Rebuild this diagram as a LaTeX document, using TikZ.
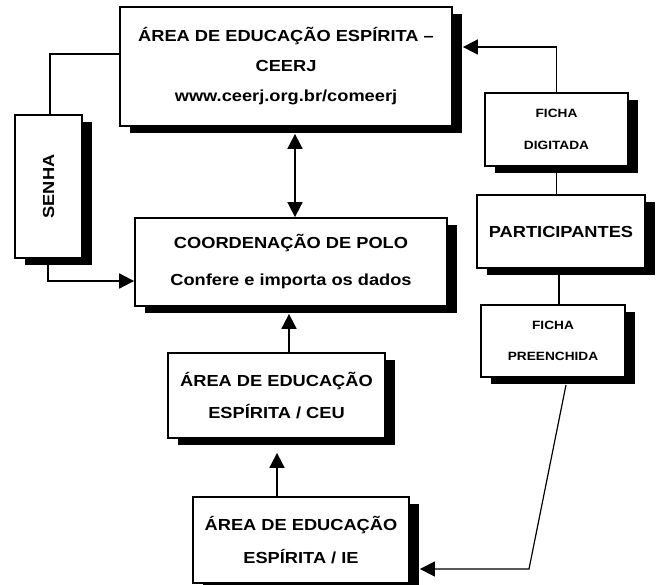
\documentclass[tikz,border=0pt]{standalone}
\usepackage{fontspec}
\setmainfont{Liberation Sans}[FakeStretch=1.14]
\usetikzlibrary{arrows.meta,shadows}
\begin{document}
\begin{tikzpicture}[x=1pt,y=-1pt,
  box/.style={draw,line width=1.8pt,fill=white,inner sep=0pt,align=center,
    font=\bfseries\fontsize{16}{30}\selectfont,
    drop shadow={shadow xshift=10pt,shadow yshift=-7pt,fill=black,opacity=1}},
  smallbox/.style={box,font=\bfseries\fontsize{12}{31.5}\selectfont},
  conn/.style={line width=1.8pt},
  arr/.style={conn,-{Triangle[length=15pt,width=15pt]}},
  darr/.style={conn,{Triangle[length=15pt,width=15pt]}-{Triangle[length=15pt,width=15pt]}}]
\useasboundingbox (0,0) rectangle (659,584);
\fill[white] (0,0) rectangle (659,584);
\node[box,minimum width=332pt,minimum height=119pt] (ceerj) at (286,66.5)
  {ÁREA DE EDUCAÇÃO ESPÍRITA –\\CEERJ\\www.ceerj.org.br/comeerj};
\node[box,minimum width=67pt,minimum height=143pt] (senha) at (48.5,186.5) {};
\node[rotate=90,font=\bfseries\fontsize{16}{20}\selectfont] (senhat) at (senha.center) {SENHA};
\node[box,minimum width=312pt,minimum height=88pt,font=\bfseries\fontsize{16}{37}\selectfont] (coord) at (291,262)
  {COORDENAÇÃO DE POLO\\Confere e importa os dados};
\node[box,minimum width=217pt,minimum height=85pt,font=\bfseries\fontsize{16}{32}\selectfont] (ceu) at (276.5,395.5)
  {ÁREA DE EDUCAÇÃO\\ESPÍRITA / CEU};
\node[box,minimum width=216pt,minimum height=86pt,font=\bfseries\fontsize{16}{33}\selectfont] (ie) at (301,540)
  {ÁREA DE EDUCAÇÃO\\ESPÍRITA / IE};
\node[smallbox,minimum width=143pt,minimum height=73pt] (digitada) at (556.5,129.5)
  {FICHA\\DIGITADA};
\node[box,minimum width=168pt,minimum height=73pt] (participantes) at (561,231.5)
  {PARTICIPANTES};
\node[smallbox,minimum width=144pt,minimum height=72pt] (preenchida) at (553,341)
  {FICHA\\PREENCHIDA};
\coordinate (ceerjS) at ([yshift=-7pt]ceerj.south);
\coordinate (coordS) at ([yshift=-7pt]coord.south);
\coordinate (ceuS) at ([yshift=-14pt]ceu.south);
\coordinate (ceerjE) at ([xshift=10pt,yshift=19.5pt]ceerj.east);
\coordinate (ieE) at ([xshift=10pt,yshift=-29pt]ie.east);
\coordinate (preS) at ([xshift=13pt,yshift=-7pt]preenchida.south);
\coordinate (bend) at (529,569);
% connectors
\draw[conn] ([yshift=12.5pt]ceerj.west) -| ([xshift=1.5pt]senha.north);
\draw[arr] ([xshift=-0.5pt]senha.south) |- ([yshift=-19pt]coord.west);
\draw[darr] ([xshift=4pt]coord.north) -- ([xshift=4pt]coord.north |- ceerjS);
\draw[arr] ([xshift=-2pt]coord.south |- ceu.north) -- ([xshift=-2pt]coordS);
\draw[arr] ([xshift=-24pt]ie.north) -- ([xshift=-24pt]ie.north |- ceuS);
\draw[arr] (digitada.north) |- (ceerjE);
\draw[conn] (digitada.south) -- (digitada.south |- participantes.north);
\draw[conn] ([xshift=-2pt]participantes.south) -- ([xshift=-2pt]participantes.south |- preenchida.north);
\draw[line width=1.2pt,-{Triangle[length=15pt,width=15pt]}] (preS) -- (bend) -- (ieE);
\end{tikzpicture}
\end{document}
